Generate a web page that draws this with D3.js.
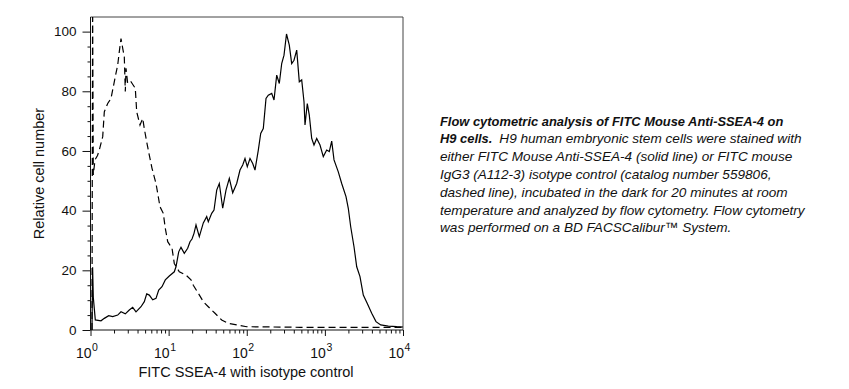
<!DOCTYPE html>
<html>
<head>
<meta charset="utf-8">
<script src="https://cdn.jsdelivr.net/npm/d3@7"></script>
<style>
  html, body { margin: 0; padding: 0; background: #fff; }
  svg { display: block; }
  text { font-family: "Liberation Sans", Arial, sans-serif; fill: #111; }
</style>
</head>
<body>
<div id="chart"></div>
<script>
// ---------- data ----------
// SSEA-4 stained (solid line): fluorescence intensity, relative cell number
const solidIntensity = [1.045, 1.064, 1.086, 1.152, 1.363, 1.502, 1.710, 1.924, 2.229, 2.457, 2.789, 3.137, 3.469, 3.823, 4.430, 4.883, 5.243, 5.657, 6.255, 6.893, 7.464, 8.227, 9.067, 10.20, 11.82, 12.43, 13.46, 14.40, 15.87, 17.54, 18.78, 19.92, 21.13, 22.41, 24.70, 27.79, 30.72, 32.20, 35.60, 38.09, 41.26, 44.53, 49.23, 54.26, 59.80, 66.11, 74.36, 81.95, 88.78, 94.97, 101.6, 110.1, 119.2, 127.5, 140.6, 150.9, 162.8, 176.4, 188.7, 208.7, 223.3, 241.8, 261.0, 280.2, 299.9, 322.8, 350.4, 376.1, 402.5, 436.0, 470.6, 505.1, 540.5, 556.7, 595.7, 631.8, 678.3, 725.8, 786.0, 866.2, 954.5, 1055, 1139, 1223, 1309, 1485, 1642, 1864, 1994, 2141, 2360, 2556, 2815, 3103, 3491, 3976, 4511, 5184, 6483, 8307, 10000];
const solidCount = [0, 21, 11, 3.4, 3.1, 3.9, 4.8, 4.5, 5.0, 6.1, 5.4, 6.7, 7.6, 6.1, 7.8, 9.5, 12.1, 11.7, 10.1, 10.6, 13.4, 14.5, 16.8, 18.1, 19.5, 21.2, 26.2, 27.7, 25.7, 27.4, 29.6, 30.5, 32.4, 35.2, 31.3, 35.9, 38.0, 36.3, 39.1, 40.2, 46.9, 49.1, 40.8, 46.9, 50.8, 46.0, 49.1, 53.6, 55.3, 57.5, 54.7, 57.5, 55.8, 53.6, 60.3, 65.9, 67.5, 77.6, 78.7, 79.3, 77.1, 85.4, 82.6, 89.3, 92.1, 99.2, 95.5, 89.3, 90.4, 93.8, 83.2, 83.8, 76.5, 68.7, 75.9, 72.0, 64.2, 62.0, 64.2, 62.0, 58.1, 60.3, 59.8, 63.3, 57.0, 53.0, 49.1, 44.7, 40.8, 34.6, 27.9, 21.2, 17.9, 11.7, 8.9, 5.6, 2.8, 1.7, 1.3, 1.1, 1.0];

// Isotype control (dashed line)
const isoIntensity = [1.045, 1.064, 1.086, 1.142, 1.229, 1.296, 1.433, 1.502, 1.660, 1.829, 1.958, 2.077, 2.229, 2.337, 2.457, 2.584, 2.708, 2.789, 2.847, 2.993, 3.299, 3.745, 3.903, 4.302, 4.659, 4.883, 5.243, 5.657, 6.127, 6.893, 7.247, 7.756, 8.546, 9.067, 9.732, 11.05, 11.82, 13.70, 16.69, 19.34, 20.69, 23.98, 27.79, 32.20, 39.23, 47.80, 58.06, 74.36, 99.86, 480.3, 2097, 10000];
const isoCount = [0, 110, 52, 57, 58.5, 60.3, 64.8, 73.1, 75.9, 77.6, 81.5, 84.9, 88.8, 93.3, 97.7, 94.4, 91.6, 79.9, 87.7, 82.6, 83.2, 81.0, 73.1, 68.7, 70.9, 67.5, 63.0, 58.6, 54.2, 49.1, 45.8, 41.3, 39.1, 34.1, 29.6, 27.4, 22.3, 19.5, 18.4, 16.8, 15.0, 12.3, 9.5, 7.8, 5.6, 3.35, 2.2, 1.7, 1.1, 0.9, 0.9, 0.9];

const yTicks = [0, 20, 40, 60, 80, 100];
const xDecades = [0, 1, 2, 3, 4];
const xLabel = "FITC SSEA-4 with isotype control";
const yLabel = "Relative cell number";
const captionBold = "Flow cytometric analysis of FITC Mouse Anti-SSEA-4 on";
const captionLead = "H9 cells.";
const captionLines = [
  "H9 human embryonic stem cells were stained with",
  "either FITC Mouse Anti-SSEA-4 (solid line) or FITC mouse",
  "IgG3 (A112-3) isotype control (catalog number 559806,",
  "dashed line), incubated in the dark for 20 minutes at room",
  "temperature and analyzed by flow cytometry. Flow cytometry",
  "was performed on a BD FACSCalibur\u2122 System."
];

// ---------- layout ----------
const W = 849, H = 389;
const plot = { left: 90.5, right: 403, top: 17, bottom: 330 };

const svg = d3.select("#chart").append("svg")
  .attr("width", W).attr("height", H);

const x = d3.scaleLog().domain([1, 10000]).range([plot.left, plot.right]);
const y = d3.scaleLinear().domain([0, 104.9]).range([plot.bottom, plot.top]);

svg.append("clipPath").attr("id", "clip")
  .append("rect")
  .attr("x", plot.left).attr("y", plot.top)
  .attr("width", plot.right - plot.left).attr("height", plot.bottom - plot.top);

// frame (top & right)
svg.append("path")
  .attr("d", `M${plot.left},${plot.top}H${plot.right}V${plot.bottom}`)
  .attr("fill", "none").attr("stroke", "#444").attr("stroke-width", 1);

// curves
const line = d3.line().x(d => x(d[0])).y(d => y(d[1]));
const g = svg.append("g").attr("clip-path", "url(#clip)");
g.append("path")
  .datum(isoIntensity.map((v, i) => [v, isoCount[i]]))
  .attr("d", line).attr("fill", "none")
  .attr("stroke", "#000").attr("stroke-width", 1.2)
  .attr("stroke-dasharray", "7,4");
g.append("path")
  .datum(solidIntensity.map((v, i) => [v, solidCount[i]]))
  .attr("d", line).attr("fill", "none")
  .attr("stroke", "#000").attr("stroke-width", 1.2);

// y axis
const yMinor = d3.range(0, 101, 5).filter(v => v % 20 !== 0);
const yAxis = d3.axisLeft(y).tickValues(yTicks).tickSize(8).tickPadding(6);
const ya = svg.append("g").attr("transform", `translate(${plot.left},0)`).call(yAxis);
ya.select(".domain").attr("d", `M0,${plot.top}V${plot.bottom}`).attr("stroke", "#111");
ya.selectAll(".tick line").attr("stroke", "#111");
ya.selectAll(".tick text").attr("font-size", 13.5).attr("font-family", "Liberation Sans, Arial, sans-serif").attr("fill", "#111");
svg.append("g").attr("transform", `translate(${plot.left},0)`)
  .call(d3.axisLeft(y).tickValues(yMinor).tickSize(3).tickFormat(""))
  .call(s => s.select(".domain").remove())
  .selectAll("line").attr("stroke", "#111");

// x axis
const xMinor = [];
xDecades.slice(0, -1).forEach(e => { for (let m = 2; m <= 9; m++) xMinor.push(m * Math.pow(10, e)); });
const xa = svg.append("g").attr("transform", `translate(0,${plot.bottom})`)
  .call(d3.axisBottom(x).tickValues(xDecades.map(e => Math.pow(10, e))).tickSize(6).tickFormat(""));
xa.select(".domain").attr("d", `M${plot.left},0H${plot.right}`).attr("stroke", "#111");
xa.selectAll("line").attr("stroke", "#111");
svg.append("g").attr("transform", `translate(0,${plot.bottom})`)
  .call(d3.axisBottom(x).tickValues(xMinor).tickSize(3.5).tickFormat(""))
  .call(s => s.select(".domain").remove())
  .selectAll("line").attr("stroke", "#111");

// x tick labels 10^n
const lbl = svg.append("g");
xDecades.forEach(e => {
  const px = x(Math.pow(10, e));
  lbl.append("text").attr("x", px + 1).attr("y", 358)
    .attr("text-anchor", "end").attr("font-size", 14).text("10");
  lbl.append("text").attr("x", px + 1.5).attr("y", 351)
    .attr("text-anchor", "start").attr("font-size", 10.5).text(e);
});

// axis titles
svg.append("text").attr("x", 246).attr("y", 376.5)
  .attr("text-anchor", "middle").attr("font-size", 14.5).text(xLabel);
svg.append("text")
  .attr("transform", `translate(43.5,${(plot.top + plot.bottom) / 2}) rotate(-90)`)
  .attr("text-anchor", "middle").attr("font-size", 14.5).text(yLabel);

// caption
const cap = svg.append("g").attr("font-size", 13.6).attr("font-style", "italic");
const cx = 440, cy0 = 125.5, lh = 17.8;
cap.append("text").attr("x", cx).attr("y", cy0).attr("font-weight", "bold").attr("font-size", 12.9).text(captionBold);
const l2 = cap.append("text").attr("x", cx).attr("y", cy0 + lh);
l2.append("tspan").attr("font-weight", "bold").attr("font-size", 12.9).text(captionLead);
l2.append("tspan").attr("dx", 7).text(captionLines[0]);
captionLines.slice(1).forEach((t, i) => {
  cap.append("text").attr("x", cx).attr("y", cy0 + lh * (i + 2)).text(t);
});
</script>
</body>
</html>
